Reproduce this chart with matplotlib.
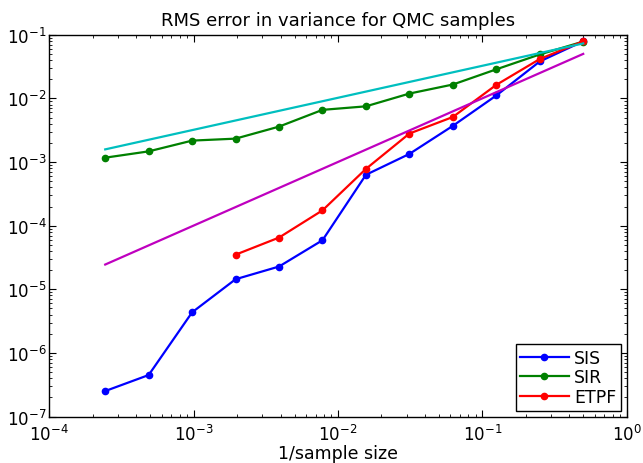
import matplotlib
matplotlib.use("Agg")
import matplotlib.pyplot as plt
from matplotlib.ticker import LogLocator, NullFormatter

plt.rcParams['font.family'] = ['DejaVu Sans']
plt.rcParams['mathtext.fontset'] = 'dejavusans'

# 1/sample size = 2^-12 ... 2^-1
inv_n = [2**-12, 2**-11, 2**-10, 2**-9, 2**-8, 2**-7,
         2**-6, 2**-5, 2**-4, 2**-3, 2**-2, 2**-1]
sis = [2.52e-7, 4.5e-7, 4.35e-6, 1.44e-5, 2.28e-5, 5.9e-5,
       6.3e-4, 1.34e-3, 3.7e-3, 1.11e-2, 3.8e-2, 7.9e-2]
sir = [1.17e-3, 1.47e-3, 2.17e-3, 2.33e-3, 3.6e-3, 6.6e-3,
       7.5e-3, 1.19e-2, 1.65e-2, 2.86e-2, 4.9e-2, 7.8e-2]
etpf_x = inv_n[3:]
etpf = [3.5e-5, 6.5e-5, 1.74e-4, 7.8e-4, 2.8e-3, 5.1e-3,
        1.63e-2, 4.15e-2, 7.9e-2]

# reference slopes, drawn between end points
ref_x = [2**-12, 2**-1]
ref_half = [1.58e-3, 7.3e-2]
ref_one = [2.45e-5, 5.0e-2]

fig = plt.figure(figsize=(6.43, 4.64), dpi=100)
ax = fig.add_axes([0.0766, 0.1, 0.898, 0.823])

ax.plot(inv_n, sis, '-o', color=(0, 0, 1), lw=1.6, ms=4.5, label='SIS')
ax.plot(inv_n, sir, '-o', color=(0, 0.5, 0), lw=1.6, ms=4.5, label='SIR')
ax.plot(etpf_x, etpf, '-o', color=(1, 0, 0), lw=1.6, ms=4.5, label='ETPF')
ax.plot(ref_x, ref_half, '-', color=(0, 0.75, 0.75), lw=1.6)
ax.plot(ref_x, ref_one, '-', color=(0.75, 0, 0.75), lw=1.6)

ax.set_xscale('log')
ax.set_yscale('log')
ax.set_xlim(1e-4, 1e0)
ax.set_ylim(1e-7, 1e-1)
ax.xaxis.set_major_locator(LogLocator(base=10, numticks=10))
ax.yaxis.set_major_locator(LogLocator(base=10, numticks=10))
ax.xaxis.set_minor_locator(LogLocator(base=10, subs=range(2, 10), numticks=20))
ax.yaxis.set_minor_locator(LogLocator(base=10, subs=range(2, 10), numticks=20))
ax.xaxis.set_minor_formatter(NullFormatter())
ax.yaxis.set_minor_formatter(NullFormatter())
ax.tick_params(which='both', direction='in', top=True, right=True, labelsize=12)
ax.tick_params(which='major', length=5)
ax.tick_params(which='minor', length=2.5)
ax.tick_params(axis='x', pad=5)
ax.tick_params(axis='y', pad=2)
for s in ax.spines.values():
    s.set_linewidth(1.0)

ax.set_title('RMS error in variance for QMC samples', fontsize=13, pad=7)
ax.set_xlabel('1/sample size', fontsize=12.5, labelpad=0)

leg = ax.legend(loc='lower right', fontsize=12.5, fancybox=False, framealpha=1,
                edgecolor='black', borderpad=0.25, handlelength=2.8,
                handletextpad=0.3, labelspacing=0.1, borderaxespad=0.35)
leg.get_frame().set_linewidth(1.0)

fig.savefig('out.png', dpi=100)
